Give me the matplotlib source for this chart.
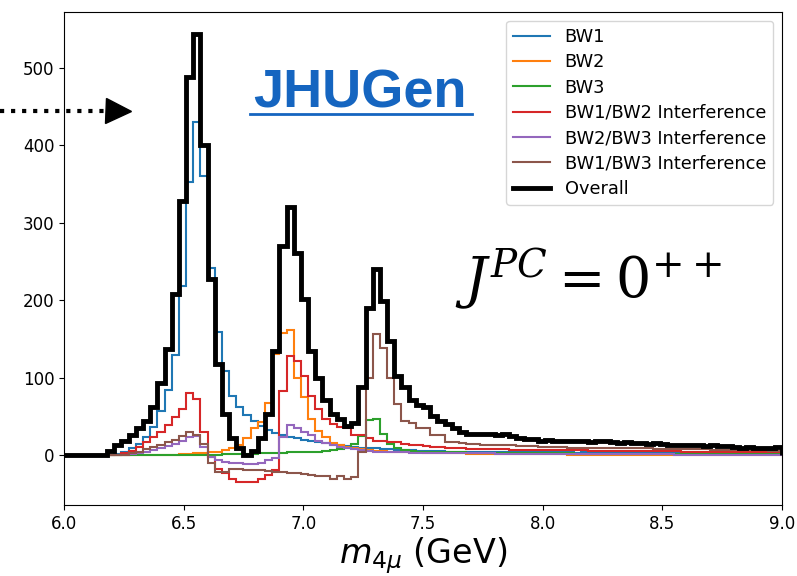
import numpy as np
import matplotlib
matplotlib.use('Agg')
from matplotlib import pyplot as plt
from matplotlib.lines import Line2D

# 100 bins of 30 MeV between 6 and 9 GeV
edges = np.linspace(6.0, 9.0, 101)

bw1 = [0, 0, 0, 0, 0, 0, 0, 2, 5, 9,
       15, 24, 37, 57, 85, 129, 218, 353, 430, 360,
       242, 159, 109, 77, 63, 52, 45, 38, 33, 29,
       26, 24, 22, 20, 18, 17, 16, 14, 13, 12,
       11, 10, 9, 9, 8, 8, 7, 7, 7, 6,
       6, 6, 6, 5, 5, 5, 5, 5, 5, 4,
       4, 4, 4, 4, 4, 4, 4, 4, 4, 4,
       4, 3, 4, 3, 3, 3, 3, 3, 3, 3,
       3, 3, 3, 3, 3, 3, 3, 3, 3, 2,
       3, 3, 2, 3, 2, 2, 2, 2, 2, 2]

bw2 = [0, 0, 0, 0, 0, 0, 0, 0, 0, 0,
       0, 0, 0, 0, 1, 1, 2, 2, 3, 3,
       4, 5, 7, 9, 13, 22, 35, 43, 68, 131,
       158, 162, 100, 75, 47, 32, 24, 16, 13, 11,
       9, 8, 7, 6, 6, 5, 5, 4, 4, 4,
       3, 3, 3, 3, 3, 3, 2, 2, 2, 2,
       2, 2, 2, 2, 2, 2, 2, 2, 2, 2,
       1, 1, 1, 1, 1, 1, 1, 1, 1, 1,
       1, 1, 1, 1, 1, 1, 1, 1, 1, 1,
       1, 1, 1, 1, 1, 1, 1, 1, 1, 1]

bw3 = [0, 0, 0, 0, 0, 0, 0, 0, 0, 0,
       0, 1, 1, 1, 1, 1, 1, 1, 1, 1,
       1, 1, 2, 2, 2, 2, 2, 3, 3, 3,
       3, 4, 4, 4, 5, 5, 6, 7, 8, 9,
       15, 25, 46, 47, 28, 15, 10, 7, 6, 5,
       5, 4, 4, 4, 4, 4, 3, 3, 3, 3,
       3, 3, 3, 3, 3, 3, 3, 3, 3, 3,
       3, 2, 2, 2, 2, 2, 2, 2, 2, 2,
       2, 2, 2, 2, 2, 2, 2, 2, 2, 2,
       2, 2, 2, 2, 2, 2, 2, 2, 2, 2]

int12 = [0, 0, 0, 0, 0, 0, 0, 0, 3, 6,
         11, 17, 24, 30, 39, 49, 60, 80, 73, 30,
         -2, -17, -23, -30, -34, -34, -34, -30, -25, -19,
         83, 128, 122, 103, 77, 60, 47, 41, 36, 35,
         26, 26, 22, 19, 19, 17, 17, 15, 13, 13,
         12, 11, 11, 10, 9, 9, 8, 8, 8, 8,
         8, 8, 7, 7, 7, 7, 7, 7, 7, 7,
         7, 7, 7, 6, 6, 6, 6, 6, 6, 6,
         6, 6, 6, 6, 6, 6, 5, 5, 5, 5,
         5, 5, 5, 5, 5, 5, 5, 5, 5, 5]

int23 = [0, 0, 0, 0, 0, 0, 0, 0, 0, 2,
         3, 5, 7, 9, 12, 15, 19, 24, 25, 11,
         -2, -6, -9, -10, -10, -11, -11, -10, -6, -3,
         24, 39, 35, 30, 26, 19, 16, 13, 11, 9,
         8, 7, 6, 5, 5, 4, 4, 4, 3, 3,
         3, 3, 3, 3, 3, 3, 3, 3, 3, 3,
         2, 2, 2, 2, 2, 2, 2, 2, 2, 2,
         2, 2, 2, 2, 2, 2, 2, 2, 2, 2,
         2, 2, 2, 2, 2, 1, 1, 1, 1, 1,
         1, 1, 1, 1, 1, 1, 1, 1, 1, 1]

int13 = [0, 0, 0, 0, 0, 0, 0, 0, 1, 3,
         5, 8, 11, 14, 17, 20, 25, 30, 26, 15,
         -10, -21, -21, -17, -17, -19, -19, -19, -20, -21,
         -22, -23, -23, -24, -25, -26, -26, -30, -26, -30,
         -28, 5, 100, 156, 139, 100, 66, 45, 42, 35,
         35, 26, 26, 17, 17, 16, 15, 15, 14, 14,
         13, 13, 13, 12, 12, 12, 11, 11, 11, 11,
         10, 10, 10, 10, 10, 9, 9, 9, 9, 9,
         9, 9, 8, 8, 8, 8, 8, 8, 8, 8,
         7, 7, 7, 7, 7, 7, 7, 7, 6, 6]

overall = [0, 0, 0, 0, 0, 0, 6, 13, 19, 26,
           35, 45, 62, 94, 137, 208, 328, 488, 543, 401,
           228, 118, 54, 22, 10, 0, 6, 23, 54, 135,
           270, 321, 261, 202, 135, 100, 71, 54, 47, 38,
           42, 88, 190, 240, 199, 148, 103, 88, 71, 65,
           62, 51, 45, 41, 35, 30, 27, 28, 27, 28,
           26, 27, 25, 22, 21, 21, 19, 20, 18, 19,
           19, 18, 19, 17, 18, 18, 17, 16, 17, 16,
           16, 15, 16, 15, 14, 13, 14, 13, 13, 12,
           13, 12, 12, 11, 10, 11, 9, 10, 10, 11]

components = [
    (bw1, 'BW1', 'C0'),
    (bw2, 'BW2', 'C1'),
    (bw3, 'BW3', 'C2'),
    (int12, 'BW1/BW2 Interference', 'C3'),
    (int23, 'BW2/BW3 Interference', 'C4'),
    (int13, 'BW1/BW3 Interference', 'C5'),
]

fig = plt.figure(figsize=(7.97, 5.76), dpi=100)
ax = fig.add_axes([64 / 797, 71 / 576, 718 / 797, 493 / 576])

for vals, label, color in components:
    ax.stairs(vals, edges, color=color, lw=1.5, label=label)
ax.stairs(overall, edges, color='black', lw=3.5, label='Overall')

ax.set_xlim(6.0, 9.0)
ax.set_ylim(-64, 572)
ax.tick_params(labelsize=12)

ax.set_xlabel(r'$m_{4\mu}$ (GeV)', fontsize=24, math_fontfamily='dejavusans')
ax.xaxis.set_label_coords(0.5, -0.062)

ax.legend(loc='upper right', fontsize=12.8, labelspacing=0.41,
          handlelength=2.1, borderaxespad=0.5)

# generator tag, underlined
fig.text(360 / 797, 1 - 107 / 576, 'JHUGen', ha='center', va='baseline',
         fontsize=39, fontweight='bold', family='Liberation Sans', color='#1565c0')
fig.add_artist(Line2D([250 / 797, 472 / 797], [1 - 114 / 576] * 2,
                      color='#1565c0', lw=2))

# dotted pointer coming in from the left edge
fig.add_artist(Line2D([0, 106 / 797], [1 - 111 / 576] * 2,
                      color='black', lw=3, ls=':'))
fig.add_artist(Line2D([117.5 / 797], [1 - 111 / 576], marker='>',
                      markersize=18, color='black'))

fig.text(455 / 797, 1 - 298 / 576, r'$J^{PC} = 0^{++}$', ha='left',
         va='baseline', fontsize=40, math_fontfamily='dejavuserif')

fig.savefig('out.png', dpi=100)
